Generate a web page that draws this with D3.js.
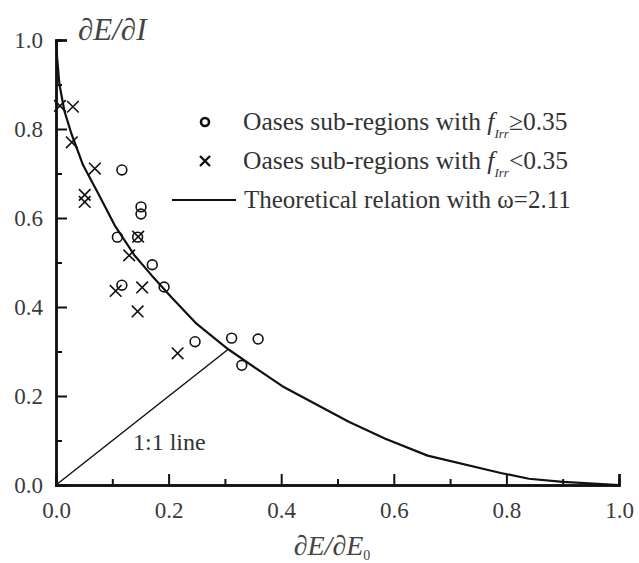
<!DOCTYPE html>
<html><head><meta charset="utf-8">
<script src="https://cdn.jsdelivr.net/npm/d3@7/dist/d3.min.js"></script>
<style>body{margin:0;background:#fff}svg{display:block}</style>
</head><body>
<script>
// Oases sub-regions with f_Irr >= 0.35 (circles)
const circleX = [0.117,0.151,0.151,0.109,0.145,0.171,0.117,0.192,0.247,0.312,0.359,0.330];
const circleY = [0.708,0.625,0.609,0.557,0.557,0.495,0.449,0.445,0.322,0.330,0.328,0.269];
// Oases sub-regions with f_Irr < 0.35 (crosses)
const crossX = [0.007,0.030,0.028,0.069,0.051,0.051,0.146,0.130,0.106,0.153,0.145,0.216];
const crossY = [0.852,0.850,0.770,0.711,0.652,0.636,0.558,0.516,0.436,0.444,0.390,0.296];
// Theoretical relation (w = 2.11)
const curveX = [0,0.002,0.006,0.015,0.027,0.048,0.075,0.104,0.140,0.170,0.205,0.250,0.306,0.360,0.402,0.520,0.585,0.660,0.790,0.840,0.900,1.0];
const curveY = [1.0,0.960,0.901,0.840,0.791,0.719,0.655,0.584,0.515,0.471,0.422,0.362,0.305,0.258,0.222,0.142,0.104,0.066,0.027,0.014,0.007,0.0];
// 1:1 line
const oneX = [0,0.306];
const oneY = [0,0.305];
const tickValues = [0,0.2,0.4,0.6,0.8,1.0];
const minorValues = [0.1,0.3,0.5,0.7,0.9];
const legendLabels = ["Oases sub-regions with ","Oases sub-regions with ","Theoretical relation with \u03c9=2.11"];

const SERIF = "'Liberation Serif','Times New Roman',serif";
const W = 639, H = 563;
const svg = d3.select("body").append("svg").attr("width", W).attr("height", H)
  .attr("font-family", SERIF);
const x = d3.scaleLinear().domain([0,1]).range([56,619]);
const y = d3.scaleLinear().domain([0,1]).range([485,40]);

// curve
const line = d3.line().x(d=>x(d[0])).y(d=>y(d[1]));
svg.append("path").datum(curveX.map((v,i)=>[v,curveY[i]]))
  .attr("d", line).attr("fill","none").attr("stroke","#111").attr("stroke-width",2.2).attr("stroke-linejoin","round");
svg.append("path").datum(oneX.map((v,i)=>[v,oneY[i]]))
  .attr("d", line).attr("fill","none").attr("stroke","#111").attr("stroke-width",1.5);

// axes
const gx = svg.append("g").attr("transform",`translate(0,${y(0)})`)
  .call(d3.axisBottom(x).tickValues(tickValues).tickSize(-11).tickPadding(17).tickFormat(d3.format(".1f")));
const gy = svg.append("g").attr("transform",`translate(${x(0)},0)`)
  .call(d3.axisLeft(y).tickValues(tickValues).tickSize(-11).tickPadding(13).tickFormat(d3.format(".1f")));
svg.append("g").attr("transform",`translate(0,${y(0)})`)
  .call(d3.axisBottom(x).tickValues(minorValues).tickSize(-6).tickFormat(""));
svg.append("g").attr("transform",`translate(${x(0)},0)`)
  .call(d3.axisLeft(y).tickValues(minorValues).tickSize(-6).tickFormat(""));
svg.selectAll("g").attr("font-family", SERIF).attr("font-size", 23);
svg.selectAll(".domain").attr("stroke","#111").attr("stroke-width",2.4);
svg.selectAll(".tick line").attr("stroke","#111").attr("stroke-width",2);
svg.selectAll(".tick text").attr("fill","#3a3a3a").attr("font-family", SERIF).attr("font-size",23);

// markers
svg.append("g").selectAll("circle").data(circleX).join("circle")
  .attr("cx",(d,i)=>x(d)).attr("cy",(d,i)=>y(circleY[i])).attr("r",4.9)
  .attr("fill","none").attr("stroke","#111").attr("stroke-width",1.6);
const cs = 5.8;
svg.append("g").selectAll("path").data(crossX).join("path")
  .attr("d",(d,i)=>{const cx=x(d), cy=y(crossY[i]);return `M${cx-cs},${cy-cs}L${cx+cs},${cy+cs}M${cx-cs},${cy+cs}L${cx+cs},${cy-cs}`;})
  .attr("stroke","#111").attr("stroke-width",1.6).attr("fill","none");

// 1:1 label
svg.append("text").attr("x",133).attr("y",450).attr("font-size",24).attr("fill","#333").text("1:1 line");

// axis titles
svg.append("text").attr("x",78).attr("y",40).attr("font-size",31).attr("font-style","italic").attr("fill","#444").text("\u2202E/\u2202I");
const xt = svg.append("text").attr("x",332).attr("y",555).attr("font-size",28).attr("font-style","italic").attr("fill","#444").attr("text-anchor","middle");
xt.append("tspan").text("\u2202E/\u2202E");
xt.append("tspan").attr("font-size",14).attr("dy",5).attr("font-style","normal").text("0");

// legend
const ly = [122,161,200];
svg.append("circle").attr("cx",205).attr("cy",ly[0]).attr("r",4).attr("fill","none").attr("stroke","#111").attr("stroke-width",2.6);
svg.append("path").attr("d",`M${200},${ly[1]-5}L${210},${ly[1]+5}M${200},${ly[1]+5}L${210},${ly[1]-5}`).attr("stroke","#111").attr("stroke-width",2.4);
svg.append("line").attr("x1",172).attr("x2",236).attr("y1",ly[2]).attr("y2",ly[2]).attr("stroke","#111").attr("stroke-width",2.2);
const sym = ["\u22650.35","<0.35"];
[0,1].forEach(i=>{
  const t = svg.append("text").attr("x",243).attr("y",ly[i]+8).attr("font-size",25.5).attr("fill","#333");
  t.append("tspan").text(legendLabels[i]);
  t.append("tspan").attr("font-style","italic").text("f");
  t.append("tspan").attr("font-style","italic").attr("font-size",13).attr("dy",8).text("Irr");
  t.append("tspan").attr("dy",-8).text(sym[i]);
});
svg.append("text").attr("x",244).attr("y",ly[2]+8).attr("font-size",25).attr("fill","#333").text(legendLabels[2]);
</script>
</body></html>
